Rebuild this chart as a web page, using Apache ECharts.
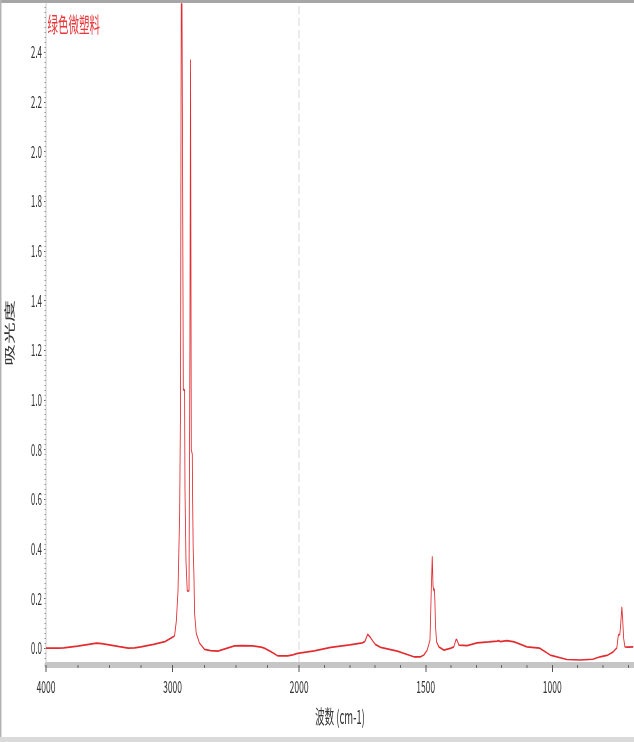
<!DOCTYPE html>
<html>
<head>
<meta charset="utf-8">
<script src="https://cdn.jsdelivr.net/npm/echarts@6/dist/echarts.min.js"></script>
<style>
  html, body { margin: 0; padding: 0; background: #fff; overflow: hidden; }
  #wrap { width: 634px; height: 742px; overflow: hidden; position: relative; }
  #chart { width: 1268px; height: 742px; transform: scaleX(0.5); transform-origin: 0 0; }
</style>
</head>
<body>
<div id="wrap"><div id="chart"></div></div>
<script>
// ---- data (wavenumber cm-1, absorbance) ----
const wavenumbers = [
  4000,3900,3860,3750,3650,3600,3560,3500,3420,3350,3300,3250,3150,3060,
  2996,2984,2970,2957,2944,2937,2933,2929,2924,2915,2905,2902,2894,2884,2870,2863,2858,2852,2844,2842,2837,2831,2826,2813,2787,
  2748,2700,2642,2580,2511,2450,2367,2300,2275,2220,2170,2091,2050,2012,1940,1875,
  1800,1750,1740,1729,1720,1710,1699,1678,1612,1547,1520,1507,1494,
  1483,1478,1474,1471,1468,1466,1464,1461,1457,1448,1428,1400,1389,1380,1376,1369,
  1336,1297,1250,1218,1212,1205,1179,1150,1100,1050,1008,942,890,840,811,780,759,745,739,733,730,725,722,718,713,700,680
];
const absorbance = [
  0.000,0.000,0.001,0.008,0.016,0.020,0.018,0.013,0.006,0.000,0.001,0.005,0.015,0.026,
  0.045,0.050,0.110,0.230,0.540,0.980,2.200,3.000,2.400,1.040,1.040,0.650,0.350,0.230,0.230,1.200,2.370,0.800,0.780,0.620,0.400,0.290,0.140,0.060,0.020,
  -0.005,-0.010,-0.012,-0.002,0.009,0.010,0.009,0.004,0.000,-0.015,-0.031,-0.031,-0.027,-0.021,-0.011,0.003,
  0.013,0.021,0.027,0.056,0.045,0.030,0.015,0.003,-0.012,-0.035,-0.035,-0.028,-0.008,
  0.032,0.230,0.370,0.250,0.230,0.240,0.200,0.086,0.025,0.005,-0.008,0.000,0.005,0.035,0.032,0.012,
  0.010,0.021,0.025,0.028,0.030,0.026,0.030,0.025,0.005,0.000,-0.028,-0.046,-0.048,-0.045,-0.035,-0.028,-0.015,0.000,0.052,0.055,0.090,0.166,0.120,0.040,0.005,0.004,0.005
];
const seriesName = '绿色微塑料';
const xMajorTicks = [4000, 3000, 2000, 1500, 1000];
const xMinorTicks = [3750, 3500, 3250, 2750, 2500, 2250,
  1900, 1800, 1700, 1600, 1400, 1300, 1200, 1100, 900, 800, 700];
const yMajorTicks = [0.0, 0.2, 0.4, 0.6, 0.8, 1.0, 1.2, 1.4, 1.6, 1.8, 2.0, 2.2, 2.4];
const xRange = [4000, 677];
const yRange = [-0.056, 2.594];
const breakWn = 2000;

// Axis scale: 4000-2000 compressed 2x relative to 2000-below
function toAxis(w) { return w >= 2000 ? (4000 - w) / 2 : 1000 + (2000 - w); }
function fromAxis(t) { return t <= 1000 ? 4000 - 2 * t : 2000 - (t - 1000); }

const yMinor = [];
for (let i = -2; i <= 129; i++) yMinor.push(+(i * 0.02).toFixed(2));

const chart = echarts.init(document.getElementById('chart'), null, { renderer: 'canvas' });
const data = wavenumbers.map((w, i) => [toAxis(w), absorbance[i]]);
const xMin = toAxis(xRange[0]), xMax = toAxis(xRange[1]);

chart.setOption({
  animation: false,
  textStyle: { fontFamily: "'Noto Sans CJK SC', sans-serif" },
  title: {
    text: seriesName, left: 90, top: 9,
    textStyle: { color: '#e8363a', fontSize: 21, fontWeight: 'normal' }
  },
  grid: { left: 88.6, right: 0, top: 4, bottom: 80, containLabel: false },
  xAxis: [{
    type: 'value', min: xMin, max: xMax, position: 'bottom', offset: 3,
    axisLine: { show: true, onZero: false, lineStyle: { color: '#c6c6c6', width: 6 } },
    axisTick: { show: true, customValues: xMajorTicks.map(toAxis), length: 7, lineStyle: { color: '#555', width: 2 } },
    axisLabel: { customValues: xMajorTicks.map(toAxis), formatter: v => String(Math.round(fromAxis(v))), fontSize: 17, color: '#333', margin: 13 },
    splitLine: { show: false },
    name: '波数 (cm-1)', nameLocation: 'middle', nameGap: 42,
    nameTextStyle: { fontSize: 19, color: '#333' }
  }, {
    type: 'value', min: xMin, max: xMax, position: 'bottom', offset: 3,
    axisLine: { show: false, onZero: false },
    axisTick: { show: true, customValues: xMinorTicks.map(toAxis), length: 3, lineStyle: { color: '#666', width: 2 } },
    axisLabel: { show: false }, splitLine: { show: false }
  }],
  yAxis: [{
    type: 'value', min: yRange[0], max: yRange[1],
    axisLine: { show: true, onZero: false, lineStyle: { color: '#c8c8c8', width: 2 } },
    axisTick: { show: true, customValues: yMajorTicks, length: 4, lineStyle: { color: '#333', width: 1 } },
    axisLabel: { customValues: yMajorTicks, formatter: v => v.toFixed(1), fontSize: 16, color: '#333', margin: 8 },
    splitLine: { show: false },
    name: '吸光度', nameLocation: 'middle', nameGap: 62,
    nameTextStyle: { fontSize: 22, color: '#333' }
  }, {
    type: 'value', min: yRange[0], max: yRange[1], position: 'left',
    axisLine: { show: false, onZero: false },
    axisTick: { show: true, customValues: yMinor, length: 3, lineStyle: { color: '#999', width: 1 } },
    axisLabel: { show: false }, splitLine: { show: false }
  }],
  series: [{
    name: seriesName, type: 'line', data: data, showSymbol: false, clip: true,
    xAxisIndex: 0, yAxisIndex: 0,
    lineStyle: { color: '#e32a2e', width: 1.7 },
    itemStyle: { color: '#e32a2e' },
    markLine: {
      silent: true, symbol: 'none', label: { show: false },
      lineStyle: { type: 'dashed', color: '#d6d6d6', width: 2 },
      data: [{ xAxis: toAxis(breakWn) }]
    }
  }],
  graphic: [
    { type: 'rect', shape: { x: 0, y: 0, width: 1268, height: 3 }, style: { fill: '#a6a6a6' }, silent: true },
    { type: 'rect', shape: { x: 0, y: 0, width: 3, height: 742 }, style: { fill: '#b4b4b4' }, silent: true },
    { type: 'rect', shape: { x: 0, y: 737, width: 1268, height: 5 }, style: { fill: '#dadada' }, silent: true }
  ]
});
</script>
</body>
</html>
